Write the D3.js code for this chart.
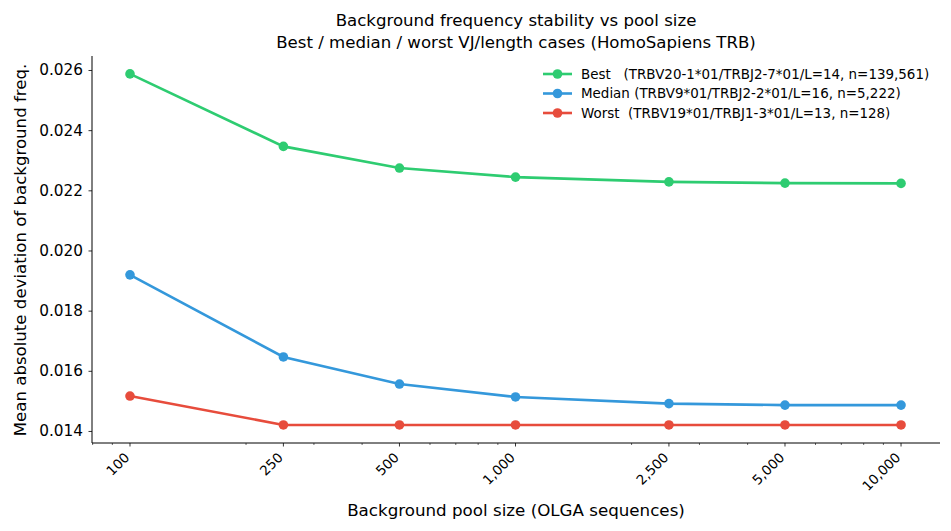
<!DOCTYPE html>
<html>
<head>
<meta charset="utf-8">
<script src="https://cdn.jsdelivr.net/npm/d3@7"></script>
<style>
  body { margin: 0; background: #fff; }
  svg { display: block; font-family: "DejaVu Sans", sans-serif; }
</style>
</head>
<body>
<svg id="chart" width="951" height="531"></svg>
<script>
const poolSizes = [100, 250, 500, 1000, 2500, 5000, 10000];
const xTickLabels = ["100", "250", "500", "1,000", "2,500", "5,000", "10,000"];
const bestValues = [0.02587, 0.02346, 0.02274, 0.02244, 0.02228, 0.02224, 0.02223];
const medianValues = [0.01919, 0.01646, 0.01556, 0.01513, 0.01491, 0.01486, 0.01486];
const worstValues = [0.01516, 0.01420, 0.01420, 0.01420, 0.01420, 0.01420, 0.01420];
const seriesNames = ["Best   (TRBV20-1*01/TRBJ2-7*01/L=14, n=139,561)",
                     "Median (TRBV9*01/TRBJ2-2*01/L=16, n=5,222)",
                     "Worst  (TRBV19*01/TRBJ1-3*01/L=13, n=128)"];
const seriesColors = ["#2ecc71", "#3498db", "#e74c3c"];
const yTicks = [0.014, 0.016, 0.018, 0.020, 0.022, 0.024, 0.026];

const series = [bestValues, medianValues, worstValues].map((vals, i) => ({
  name: seriesNames[i], color: seriesColors[i],
  points: poolSizes.map((p, j) => ({x: p, y: vals[j]}))
}));

const svg = d3.select("#chart");
const L = 92, R = 940, T = 56, B = 443;
const x = d3.scaleLog().domain([79.7, 12620]).range([L, R]);
const y = d3.scaleLinear().domain([0.0136, 0.026465]).range([B, T]);

// minor ticks
const minor = [];
[10, 100, 1000, 10000].forEach(d => { for (let k = 1; k < 10; k++) { const v = d * k; if (v >= 79.7 && v <= 12620 && !poolSizes.includes(v)) minor.push(v); } });
const gx = svg.append("g");
gx.selectAll("line.minor").data(minor).join("line")
  .attr("x1", d => x(d)).attr("x2", d => x(d)).attr("y1", B).attr("y2", B + 2)
  .attr("stroke", "#000").attr("stroke-width", 0.6);
gx.selectAll("line.major").data(poolSizes).join("line")
  .attr("x1", d => x(d)).attr("x2", d => x(d)).attr("y1", B).attr("y2", B + 3.5)
  .attr("stroke", "#000").attr("stroke-width", 0.8);
gx.selectAll("text").data(poolSizes).join("text")
  .attr("transform", d => `translate(${x(d) - 3},${B + 12}) rotate(-45)`)
  .attr("text-anchor", "end").attr("dy", "0.35em")
  .attr("font-size", 13.5)
  .text((d, i) => xTickLabels[i]);

// y axis
const gy = svg.append("g").attr("transform", `translate(${L},0)`)
  .call(d3.axisLeft(y).tickValues(yTicks).tickFormat(d3.format(".3f")).tickSizeOuter(0).tickSize(3.5).tickPadding(5.5));
gy.select(".domain").remove();
gy.selectAll("line").attr("stroke-width", 0.8);
gy.selectAll("text").attr("font-size", 15.3).attr("font-family", "DejaVu Sans");

// spines
svg.append("line").attr("x1", L).attr("x2", L).attr("y1", T).attr("y2", B).attr("stroke", "#000").attr("stroke-width", 1);
svg.append("line").attr("x1", L).attr("x2", R).attr("y1", B).attr("y2", B).attr("stroke", "#000").attr("stroke-width", 1);

// lines
const line = d3.line().x(d => x(d.x)).y(d => y(d.y));
series.forEach(s => {
  svg.append("path").datum(s.points).attr("d", line)
    .attr("fill", "none").attr("stroke", s.color).attr("stroke-width", 2.6);
  svg.selectAll(null).data(s.points).join("circle")
    .attr("cx", d => x(d.x)).attr("cy", d => y(d.y)).attr("r", 4.8).attr("fill", s.color);
});

// legend
const lg = svg.append("g");
series.forEach((s, i) => {
  const yy = 74 + i * 19.5;
  lg.append("line").attr("x1", 543).attr("x2", 572).attr("y1", yy).attr("y2", yy)
    .attr("stroke", s.color).attr("stroke-width", 2.6);
  lg.append("circle").attr("cx", 557.5).attr("cy", yy).attr("r", 4.8).attr("fill", s.color);
  lg.append("text").attr("x", 581).attr("y", yy).attr("dy", "0.36em")
    .attr("font-size", 13.45).attr("xml:space", "preserve").style("white-space", "pre").text(s.name);
});

// titles
svg.append("text").attr("x", 516).attr("y", 26).attr("text-anchor", "middle").attr("font-size", 16.6)
  .text("Background frequency stability vs pool size");
svg.append("text").attr("x", 516).attr("y", 48).attr("text-anchor", "middle").attr("font-size", 16.6)
  .text("Best / median / worst VJ/length cases (HomoSapiens TRB)");
svg.append("text").attr("x", 516).attr("y", 516).attr("text-anchor", "middle").attr("font-size", 16.7)
  .text("Background pool size (OLGA sequences)");
svg.append("text").attr("transform", `translate(26,250) rotate(-90)`).attr("text-anchor", "middle").attr("font-size", 16.6)
  .text("Mean absolute deviation of background freq.");
</script>
</body>
</html>
